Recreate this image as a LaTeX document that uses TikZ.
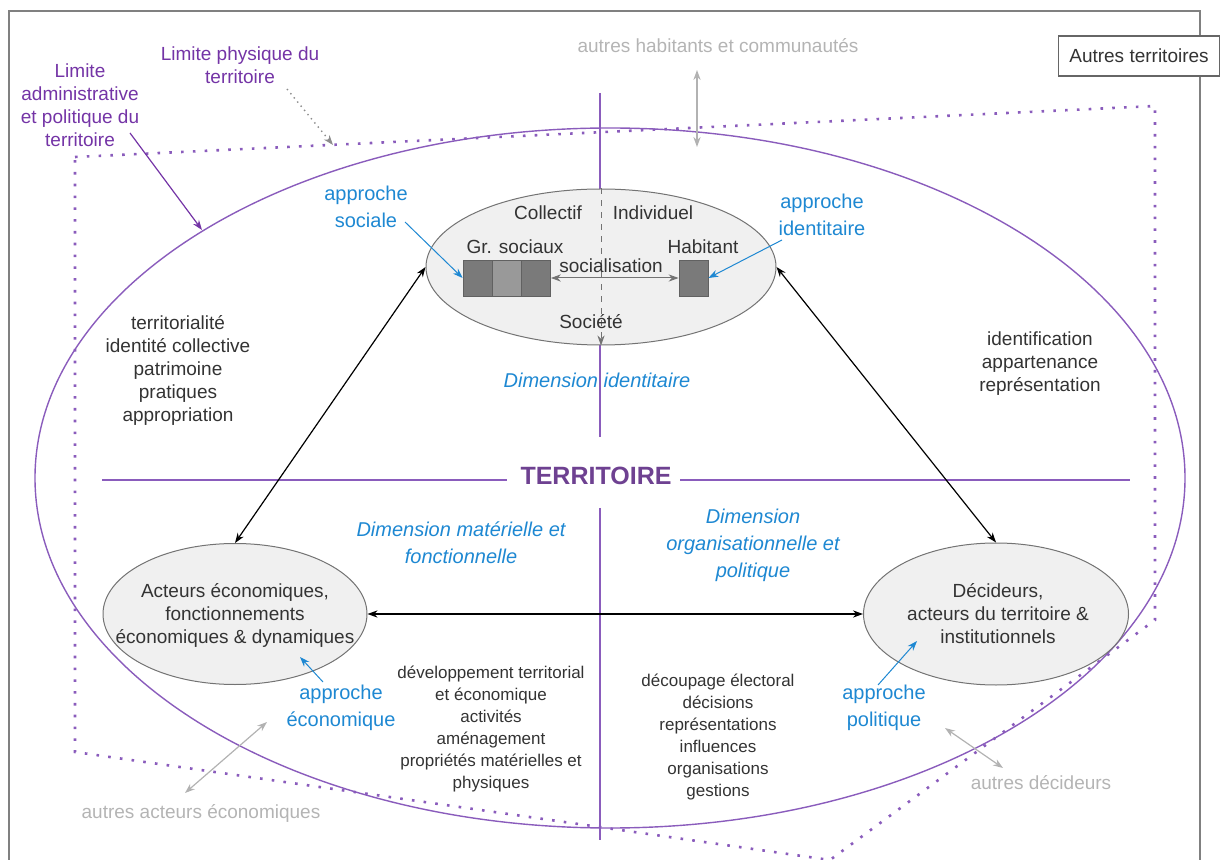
\documentclass[tikz,border=0pt]{standalone}
\usepackage{fontspec}
\setmainfont{Liberation Sans}
\usetikzlibrary{arrows.meta,shapes.geometric}
\definecolor{lila}{HTML}{8A5CBC}
\definecolor{lilatexte}{HTML}{7434A6}
\definecolor{terrcol}{HTML}{6E4191}
\definecolor{bleu}{HTML}{1E88D2}
\definecolor{gristexte}{HTML}{B4B4B4}
\definecolor{fonce}{HTML}{333333}
\tikzset{
  txt/.style={text=fonce,align=center,inner sep=0pt,font=\fontsize{9.5}{11.5}\selectfont},
  petit/.style={text=fonce,align=center,inner sep=0pt,font=\fontsize{8.5}{11}\selectfont},
  bleutxt/.style={text=bleu,align=center,inner sep=0pt,font=\fontsize{10}{13.25}\selectfont},
  dimtxt/.style={text=bleu,align=center,inner sep=0pt,font=\fontsize{10}{13.5}\selectfont\itshape},
  gristxt/.style={text=gristexte,align=center,inner sep=0pt,font=\fontsize{9.5}{11.5}\selectfont},
  lilatxt/.style={text=lilatexte,align=center,inner sep=0pt,font=\fontsize{9.5}{11.5}\selectfont},
  bulle/.style={ellipse,draw=black!55,fill=black!6,line width=0.5pt,inner sep=0pt},
  carre/.style={rectangle,draw=black!62,line width=0.4pt,minimum width=14.5pt,minimum height=18pt,inner sep=0pt},
  ligne/.style={draw=lila,line width=0.7pt}
}
\begin{document}
\begin{tikzpicture}[x=0.5pt,y=-0.5pt,>={Stealth[length=5pt,width=3.6pt]}]
  \useasboundingbox (0,0) rectangle (1220,860);
  % cadre et autres territoires
  \draw[black!50,line width=1pt] (9,860) -- (9,11) -- (1200,11) -- (1200,860);
  \node[draw=black!60,fill=white,line width=0.6pt,minimum width=80.5pt,minimum height=20pt,
        inner sep=0pt,text=fonce,font=\fontsize{9.5}{11.5}\selectfont] (autres) at (1139,56) {Autres territoires};

  % limites du territoire
  \draw[lila,line width=1.3pt,dash pattern=on 1.3pt off 4.6pt]
    (75,157) -- (1155,106) -- (1155,620) -- (830,860) -- (75,752) -- cycle;
  \draw[ligne] (610,478) ellipse [x radius=287.5pt,y radius=175pt];

  % axes
  \node[font=\fontsize{12.5}{15}\selectfont\bfseries,text=terrcol,inner sep=0pt] (terr) at (596,476) {TERRITOIRE};
  \draw[ligne] (102,480) -- (507,480) (680,480) -- (1130,480);
  \draw[ligne] (600,93) -- (600,437) (600,508) -- (600,840);

  % les trois poles
  \node[bulle,minimum width=175pt,minimum height=78pt] (ident) at (601,267) {};
  \node[bulle,minimum width=132pt,minimum height=70.5pt] (eco) at (235,614) {};
  \node[bulle,minimum width=132.5pt,minimum height=71pt] (deci) at (996,614) {};
  \node[txt] (ecotxt) at (235,615) {Acteurs économiques,\\fonctionnements\\économiques \& dynamiques};
  \node[txt] (decitxt) at (998,614) {Décideurs,\\acteurs du territoire \&\\institutionnels};

  % dedans le pole identitaire
  \draw[black!55,dashed,->,line width=0.5pt] (ident.north) -- (ident.south);
  \node[txt] (collectif) at (548,213) {Collectif};
  \node[txt] (indiv) at (653,213) {Individuel};
  \node[txt] (grsoc) at (515,247) {Gr. sociaux};
  \node[txt] (habt) at (703,247) {Habitant};
  \node[txt] (societe) at (591,322) {Société};
  \node[carre,fill=black!52] (gr1) at (477.5,278) {};
  \node[carre,fill=black!40] (gr2) at (506.5,278) {};
  \node[carre,fill=black!52] (gr3) at (536,278) {};
  \node[carre,fill=black!52] (hab) at (693.5,278) {};
  \draw[<->,black!55,line width=0.5pt] (gr3.east) -- (hab.west);
  \node[txt] (socialis) at (611,266) {socialisation};

  % liens entre poles
  \begin{scope}[<->,black,line width=0.6pt]
    \draw (ident.west) -- (eco.north);
    \draw (ident.east) -- (deci.north);
    \draw (eco.east) -- (deci.west);
  \end{scope}

  % approches
  \node[bleutxt] (apsoc) at (366,207) {approche\\sociale};
  \node[bleutxt] (apid) at (822,215) {approche\\identitaire};
  \node[bleutxt] (apeco) at (341,708) {approche\\économique};
  \node[bleutxt] (appol) at (884,708) {approche\\politique};
  \coordinate (peco) at (300,657);
  \coordinate (ppol) at (917,641);
  \begin{scope}[->,bleu,line width=0.5pt]
    \draw (405,222) -- (gr1.west);
    \draw (782,240) -- (hab.east);
    \draw (323,682) -- (peco);
    \draw (878,685) -- (ppol);
  \end{scope}

  % dimensions
  \node[dimtxt] (dimid) at (597,380) {Dimension identitaire};
  \node[dimtxt] (dimmat) at (461,543) {Dimension matérielle et\\fonctionnelle};
  \node[dimtxt] (dimorg) at (753,545) {Dimension\\organisationnelle et\\politique};

  % mots-cles
  \node[txt] (motsid) at (178,370) {territorialité\\identité collective\\patrimoine\\pratiques\\appropriation};
  \node[txt] (motsap) at (1040,364) {identification\\appartenance\\représentation};
  \node[petit] (motsmat) at (491,729) {développement territorial\\et économique\\activités\\aménagement\\propriétés matérielles et\\physiques};
  \node[petit] (motsorg) at (718,737) {découpage électoral\\décisions\\représentations\\influences\\organisations\\gestions};

  % acteurs exterieurs
  \node[gristxt] (autreshab) at (718,46) {autres habitants et communautés};
  \node[gristxt] (autreseco) at (201,813) {autres acteurs économiques};
  \node[gristxt] (autresdec) at (1041,783) {autres décideurs};
  \begin{scope}[<->,black!30,line width=0.6pt]
    \draw (697,70) -- (697,147);
    \draw (185,793) -- (267,722);
    \draw (945,728) -- (1003,768);
  \end{scope}

  % legendes des limites
  \node[lilatxt] (limadm) at (80,105) {Limite\\administrative\\et politique du\\territoire};
  \node[lilatxt] (limphy) at (240,65) {Limite physique du\\territoire};
  \draw[->,lilatexte,line width=0.6pt] (130,133) -- (202,230);
  \draw[->,black!45,dotted,line width=0.7pt] (287,89) -- (333,145);
\end{tikzpicture}
\end{document}
